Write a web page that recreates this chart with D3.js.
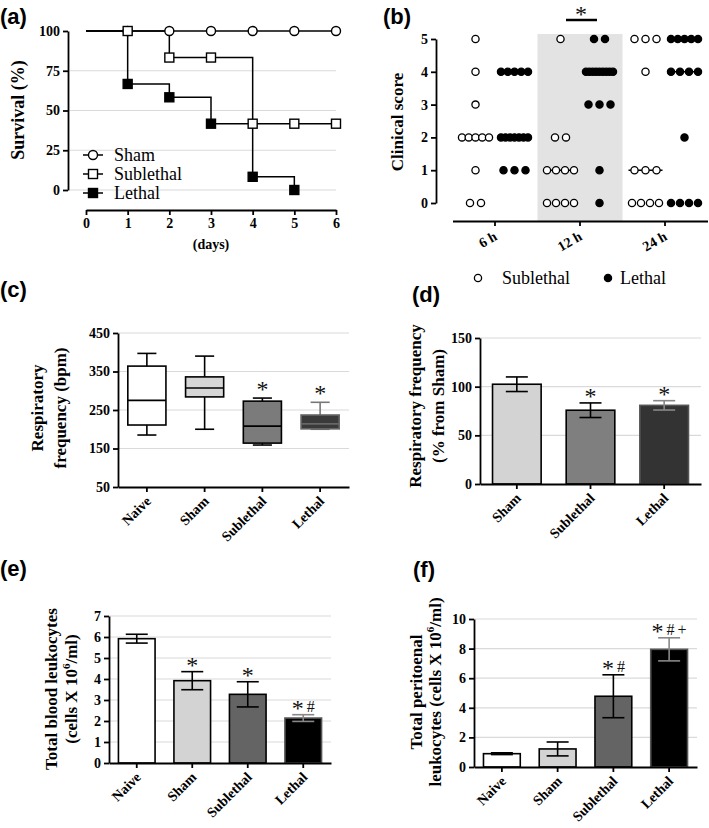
<!DOCTYPE html>
<html lang="en">
<head>
<meta charset="UTF-8">
<title>Sepsis severity panels</title>
<script src="https://d3js.org/d3.v7.min.js"></script>
<style>
  body { margin: 0; background: #fff; }
</style>
</head>
<body>
<svg width="709" height="828"></svg>
<script>
// ---- data ----
// (a) survival
var survDays = [0, 1, 2, 3, 4, 5, 6];
var survSham = [100, 100, 100, 100, 100, 100, 100];
var survSublethal = [100, 100, 83.3, 83.3, 41.7, 41.7, 41.7];
var survLethal = [100, 66.7, 58.3, 41.7, 8.3, 0];

// (b) clinical score, one value per animal
var clinTimes = ["6 h", "12 h", "24 h"];
var clinSublethal = [
    [5, 4, 3, 2, 2, 2, 2, 2, 1, 0, 0],
    [5, 2, 2, 1, 1, 1, 1, 0, 0, 0, 0],
    [5, 5, 5, 4, 1, 1, 1, 0, 0, 0, 0]
];
var clinLethal = [
    [4, 4, 4, 4, 4, 2, 2, 2, 2, 2, 2, 2, 1, 1, 1],
    [5, 5, 4, 4, 4, 4, 4, 4, 4, 4, 4, 3, 3, 3, 1, 0],
    [5, 5, 5, 5, 5, 4, 4, 4, 4, 2, 0, 0, 0, 0]
];

// (c) respiratory frequency box plots
var rfGroups = ["Naive", "Sham", "Sublethal", "Lethal"];
var rfMin = [185, 200, 159, 200];
var rfQ1 = [211, 284, 164, 201];
var rfMedian = [275, 307, 208, 214];
var rfQ3 = [364, 336, 273, 237];
var rfMax = [397, 390, 281, 270];
var rfSig = ["", "", "*", "*"];

// (d) respiratory frequency, % of sham
var pctGroups = ["Sham", "Sublethal", "Lethal"];
var pctMean = [102.5, 75.8, 80.8];
var pctErr = [7.5, 7.5, 4.8];
var pctSig = ["", "*", "*"];

// (e) blood leukocytes
var cellGroups = ["Naive", "Sham", "Sublethal", "Lethal"];
var bloodMean = [5.92, 3.92, 3.27, 2.14];
var bloodErr = [0.21, 0.43, 0.6, 0.16];
var bloodSig = ["", "*", "*", "*#"];

// (f) peritoneal leukocytes
var periMean = [0.9, 1.22, 4.78, 7.95];
var periErr = [0.06, 0.47, 1.45, 0.78];
var periSig = ["", "", "*#", "*#+"];

// ---- drawing ----
var serif = "'Liberation Serif', 'Times New Roman', serif";
var sans = "'Liberation Sans', Arial, sans-serif";
var svg = d3.select("svg");

function panelLetter(txt, x, y) {
    svg.append("text").attr("x", x).attr("y", y).text(txt)
        .attr("font-family", sans).attr("font-weight", "bold").attr("font-size", 22);
}

function styleAxis(a) {
    a.attr("font-family", serif).attr("font-size", 14).attr("font-weight", "bold");
    a.select(".domain").attr("stroke-width", 1.8);
    a.selectAll(".tick line").attr("stroke-width", 1.8);
    a.selectAll(".tick text").attr("fill", "#000");
}

function leftAxis(scale, x, ticks) {
    var a = svg.append("g").attr("transform", "translate(" + x + ",0)")
        .call(d3.axisLeft(scale).tickValues(ticks).tickFormat(d3.format("d"))
            .tickSize(5).tickSizeOuter(0).tickPadding(3));
    styleAxis(a);
    return a;
}

function bottomAxis(scale, y, angle) {
    var a = svg.append("g").attr("transform", "translate(0," + y + ")")
        .call(d3.axisBottom(scale).tickSize(5).tickSizeOuter(0));
    styleAxis(a);
    a.selectAll(".tick text")
        .attr("x", 0).attr("y", 0).attr("dy", 0)
        .attr("text-anchor", "end")
        .attr("transform", angle == 45 ? "translate(5,15) rotate(-45)" : "translate(3,18) rotate(-30)");
    return a;
}

// y title, lines rotated -90; "^6" becomes a superscript
function yTitle(lines, xs, cy, size) {
    lines.forEach(function(line, i) {
        var t = svg.append("text")
            .attr("transform", "translate(" + xs[i] + "," + cy + ") rotate(-90)")
            .attr("text-anchor", "middle")
            .attr("font-family", serif).attr("font-weight", "bold").attr("font-size", size);
        var parts = line.split("^6");
        if (parts.length == 1) {
            t.text(line);
        } else {
            t.append("tspan").text(parts[0]);
            t.append("tspan").text("6").attr("font-size", size * 0.65).attr("dy", -7);
            t.append("tspan").text(parts[1]).attr("dy", 7);
        }
    });
}

// significance marks: star big, # and + smaller, lifted to the star's height
function sigMark(txt, x, y) {
    if (!txt) return;
    var t = svg.append("text").attr("x", x).attr("y", y)
        .attr("text-anchor", "middle").attr("font-family", serif).attr("fill", "#111");
    txt.split("").forEach(function(c, i) {
        var ts = t.append("tspan").text(c)
            .attr("font-size", c == "*" ? 24 : 16)
            .attr("dx", i == 0 ? 0 : 3);
        if (i == 1) ts.attr("dy", -4);
    });
}

function hGrid(y, values, x1, x2) {
    svg.append("g").selectAll("line").data(values).enter().append("line")
        .attr("x1", x1).attr("x2", x2)
        .attr("y1", function(d) { return y(d); })
        .attr("y2", function(d) { return y(d); })
        .attr("stroke", "#dadada").attr("stroke-width", 1.2);
}

// ===== (a) survival =====
(function() {
    panelLetter("(a)", 0, 24);
    var x = d3.scaleLinear().domain([0, 6]).range([86, 336]);
    var y = d3.scaleLinear().domain([0, 100]).range([190, 31]);
    hGrid(y, [0, 25, 50, 75], 70, 336);

    var line = d3.line()
        .x(function(d) { return x(d[0]); })
        .y(function(d) { return y(d[1]); })
        .curve(d3.curveStepAfter);

    function pts(vals) {
        return vals.map(function(v, i) { return [survDays[i], v]; });
    }
    [survSham, survSublethal, survLethal].forEach(function(s) {
        svg.append("path").datum(pts(s)).attr("d", line)
            .attr("fill", "none").attr("stroke", "#000").attr("stroke-width", 1.5);
    });

    // markers (not at day 0)
    svg.append("g").selectAll("circle").data(pts(survSham).slice(1)).enter().append("circle")
        .attr("cx", function(d) { return x(d[0]); })
        .attr("cy", function(d) { return y(d[1]); })
        .attr("r", 4.5).attr("fill", "#fff").attr("stroke", "#000").attr("stroke-width", 1.4);
    svg.append("g").selectAll("rect").data(pts(survSublethal).slice(1)).enter().append("rect")
        .attr("x", function(d) { return x(d[0]) - 4.5; })
        .attr("y", function(d) { return y(d[1]) - 4.5; })
        .attr("width", 9).attr("height", 9)
        .attr("fill", "#fff").attr("stroke", "#000").attr("stroke-width", 1.4);
    svg.append("g").selectAll("rect").data(pts(survLethal).slice(1)).enter().append("rect")
        .attr("x", function(d) { return x(d[0]) - 4.5; })
        .attr("y", function(d) { return y(d[1]) - 4.5; })
        .attr("width", 9).attr("height", 9)
        .attr("fill", "#000").attr("stroke", "#000").attr("stroke-width", 1.4);

    leftAxis(y, 68, [0, 25, 50, 75, 100]);
    var xa = svg.append("g").attr("transform", "translate(0,210)")
        .call(d3.axisBottom(x).ticks(6).tickSize(5).tickSizeOuter(0).tickPadding(3));
    styleAxis(xa);
    svg.append("text").attr("x", 211).attr("y", 249).attr("text-anchor", "middle")
        .attr("font-family", serif).attr("font-weight", "bold").attr("font-size", 14).text("(days)");
    yTitle(["Survival (%)"], [24], 110, 18);

    // legend
    var leg = [["Sham", "circle", "#fff"], ["Sublethal", "square", "#fff"], ["Lethal", "square", "#000"]];
    leg.forEach(function(l, i) {
        var ly = 155 + i * 19;
        svg.append("line").attr("x1", 83).attr("x2", 103).attr("y1", ly).attr("y2", ly)
            .attr("stroke", "#000").attr("stroke-width", 1.5);
        if (l[1] == "circle") {
            svg.append("circle").attr("cx", 93).attr("cy", ly).attr("r", 4.5)
                .attr("fill", l[2]).attr("stroke", "#000").attr("stroke-width", 1.4);
        } else {
            svg.append("rect").attr("x", 88.5).attr("y", ly - 4.5).attr("width", 9).attr("height", 9)
                .attr("fill", l[2]).attr("stroke", "#000").attr("stroke-width", 1.4);
        }
        svg.append("text").attr("x", 114).attr("y", ly + 6).text(l[0])
            .attr("font-family", serif).attr("font-size", 18);
    });
})();

// ===== (b) clinical score =====
(function() {
    panelLetter("(b)", 383, 24);
    var x = d3.scaleBand().domain(clinTimes).range([452.5, 707.5]);
    var y = d3.scaleLinear().domain([0, 5]).range([203, 39]);

    // shaded 12 h band
    svg.append("rect").attr("x", x("12 h")).attr("width", x.bandwidth())
        .attr("y", 34).attr("height", 221 - 34).attr("fill", "#e3e3e3");

    function dots(groups, offset, fill) {
        groups.forEach(function(vals, gi) {
            var cx = x(clinTimes[gi]) + x.bandwidth() / 2 + offset;
            var counts = d3.rollup(vals, function(v) { return v.length; }, function(d) { return d; });
            var med = d3.median(vals);
            svg.append("line").attr("x1", cx - 17).attr("x2", cx + 17)
                .attr("y1", y(med)).attr("y2", y(med))
                .attr("stroke", "#000").attr("stroke-width", 1.6);
            counts.forEach(function(n, v) {
                var sp = n > 1 ? Math.min(11, 27 / (n - 1)) : 0;
                var g = svg.append("g");
                g.selectAll("circle").data(d3.range(n)).enter().append("circle")
                    .attr("cx", function(i) { return cx + (i - (n - 1) / 2) * sp; })
                    .attr("cy", y(v)).attr("r", 3.6)
                    .attr("fill", fill).attr("stroke", "#000").attr("stroke-width", 1.3);
            });
        });
    }
    dots(clinSublethal, -19.5, "#fff");
    dots(clinLethal, 19.5, "#000");

    leftAxis(y, 436, [0, 1, 2, 3, 4, 5]);
    bottomAxis(x, 221, 30);

    // significance bar over 12 h
    svg.append("line").attr("x1", 566).attr("x2", 597).attr("y1", 20).attr("y2", 20)
        .attr("stroke", "#000").attr("stroke-width", 2.5);
    sigMark("*", 581, 22);

    yTitle(["Clinical score"], [403], 122, 17);

    // legend
    svg.append("circle").attr("cx", 478).attr("cy", 278).attr("r", 3.6)
        .attr("fill", "#fff").attr("stroke", "#000").attr("stroke-width", 1.3);
    svg.append("text").attr("x", 502).attr("y", 284).text("Sublethal")
        .attr("font-family", serif).attr("font-size", 18);
    svg.append("circle").attr("cx", 608).attr("cy", 278).attr("r", 3.6)
        .attr("fill", "#000").attr("stroke", "#000").attr("stroke-width", 1.3);
    svg.append("text").attr("x", 620).attr("y", 284).text("Lethal")
        .attr("font-family", serif).attr("font-size", 18);
})();

// ===== (c) box plots =====
(function() {
    panelLetter("(c)", 0, 297);
    var colors = ["#ffffff", "#d6d6d6", "#7b7b7b", "#3a3a3a"];
    var x = d3.scaleBand().domain(rfGroups).range([118, 349]).paddingInner(0.34).paddingOuter(0.17);
    var y = d3.scaleLinear().domain([50, 450]).range([487, 333]);
    hGrid(y, [150, 250, 350, 450], 118, 349);

    rfGroups.forEach(function(gname, i) {
        var x0 = x(gname), w = x.bandwidth(), cx = x0 + w / 2;
        var g = svg.append("g");
        var wc = i == 3 ? "#777" : "#000";
        g.append("line").attr("x1", cx).attr("x2", cx).attr("y1", y(rfMax[i])).attr("y2", y(rfQ3[i]))
            .attr("stroke", wc).attr("stroke-width", 1.6);
        g.append("line").attr("x1", cx).attr("x2", cx).attr("y1", y(rfQ1[i])).attr("y2", y(rfMin[i]))
            .attr("stroke", wc).attr("stroke-width", 1.6);
        g.append("line").attr("x1", cx - w / 4).attr("x2", cx + w / 4).attr("y1", y(rfMax[i])).attr("y2", y(rfMax[i]))
            .attr("stroke", wc).attr("stroke-width", 1.6);
        g.append("line").attr("x1", cx - w / 4).attr("x2", cx + w / 4).attr("y1", y(rfMin[i])).attr("y2", y(rfMin[i]))
            .attr("stroke", wc).attr("stroke-width", 1.6);
        g.append("rect").attr("x", x0).attr("width", w)
            .attr("y", y(rfQ3[i])).attr("height", y(rfQ1[i]) - y(rfQ3[i]))
            .attr("fill", colors[i]).attr("stroke", i == 3 ? "#666" : "#000").attr("stroke-width", 1.6);
        g.append("line").attr("x1", x0).attr("x2", x0 + w).attr("y1", y(rfMedian[i])).attr("y2", y(rfMedian[i]))
            .attr("stroke", i == 3 ? "#666" : "#000").attr("stroke-width", 1.6);
        sigMark(rfSig[i], cx, y(rfMax[i]) - 1);
    });

    leftAxis(y, 118, [50, 150, 250, 350, 450]);
    bottomAxis(x, 487, 45);
    yTitle(["Respiratory", "frequency (bpm)"], [43, 66], 408, 17);
})();

// ===== bar panels (d), (e), (f) =====
function barPanel(groups, means, errs, sig, colors, domain, ticks, grid, box, title, titleX, titleY) {
    var x = d3.scaleBand().domain(groups).range([box.left, box.right]).paddingInner(0.34).paddingOuter(0.17);
    var y = d3.scaleLinear().domain(domain).range([box.bottom, box.top]);
    hGrid(y, grid, box.left, box.right);

    groups.forEach(function(gname, i) {
        var x0 = x(gname), w = x.bandwidth(), cx = x0 + w / 2;
        var dark = d3.hsl(colors[i]).l < 0.3;
        var ec = dark ? "#888" : "#000";
        var hi = y(means[i] + errs[i]), lo = y(means[i] - errs[i]);
        svg.append("rect").attr("x", x0).attr("width", w)
            .attr("y", y(means[i])).attr("height", y(0) - y(means[i]))
            .attr("fill", colors[i]).attr("stroke", dark ? "#555" : "#000").attr("stroke-width", 1.6);
        svg.append("line").attr("x1", cx).attr("x2", cx).attr("y1", hi).attr("y2", lo)
            .attr("stroke", ec).attr("stroke-width", 1.6);
        [hi, lo].forEach(function(yy) {
            svg.append("line").attr("x1", cx - 11).attr("x2", cx + 11).attr("y1", yy).attr("y2", yy)
                .attr("stroke", ec).attr("stroke-width", 1.6);
        });
        sigMark(sig[i], cx, hi + 1);
    });

    leftAxis(y, box.left, ticks);
    bottomAxis(x, box.bottom, 45);
    yTitle(title, titleX, titleY, 17);
}

panelLetter("(d)", 412, 302);
barPanel(pctGroups, pctMean, pctErr, pctSig, ["#d3d3d3", "#7f7f7f", "#333333"],
    [0, 150], [0, 50, 100, 150], [50, 100, 150],
    {left: 480, right: 701, top: 338, bottom: 484},
    ["Respiratory frequency", "(% from Sham)"], [421, 444], 406);

panelLetter("(e)", 0, 576);
barPanel(cellGroups, bloodMean, bloodErr, bloodSig, ["#ffffff", "#d3d3d3", "#646464", "#000000"],
    [0, 7], [0, 1, 2, 3, 4, 5, 6, 7], [1, 2, 3, 4, 5, 6, 7],
    {left: 109, right: 331, top: 616, bottom: 763},
    ["Total blood leukocytes", "(cells X 10^6/ml)"], [57, 77], 689);

panelLetter("(f)", 413, 577);
barPanel(cellGroups, periMean, periErr, periSig, ["#ffffff", "#d3d3d3", "#646464", "#000000"],
    [0, 10], [0, 2, 4, 6, 8, 10], [2, 4, 6, 8, 10],
    {left: 474, right: 697, top: 619, bottom: 767},
    ["Total peritoenal", "leukocytes (cells X 10^6/ml)"], [422, 441], 692);
</script>
</body>
</html>
